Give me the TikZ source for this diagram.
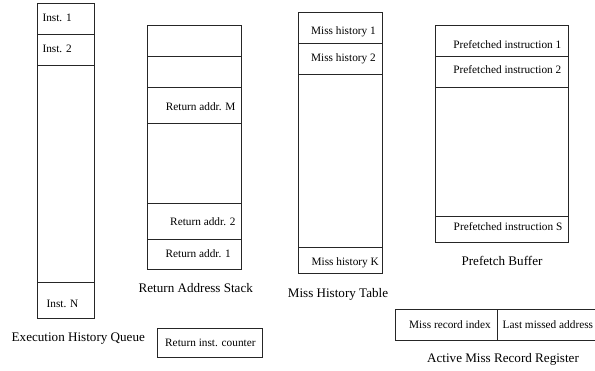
\documentclass[tikz,border=0pt]{standalone}
\usepackage{fontspec}
\setmainfont{Liberation Serif}
\begin{document}
\begin{tikzpicture}[x=1pt,y=-1pt,
  cell/.style={draw=black!85, line width=0.8pt, inner sep=0pt, anchor=north west},
  ctext/.style={font=\fontsize{11.3}{13}\selectfont, inner sep=0pt, yshift=-1.5pt},
  caption/.style={font=\fontsize{13.1}{15}\selectfont, inner sep=0pt, anchor=mid, yshift=-2pt}]
\clip (0,0) rectangle (595,371);
\useasboundingbox (0,0) rectangle (595,371);
% Execution History Queue
\node[cell, minimum width=56.7pt, minimum height=31pt] (e1) at (37.3,2.7) {};
\node[cell, minimum width=56.7pt, minimum height=31.3pt] (e2) at (37.3,33.7) {};
\node[cell, minimum width=56.7pt, minimum height=217.3pt] (e3) at (37.3,65) {};
\node[cell, minimum width=56.7pt, minimum height=36pt] (e4) at (37.3,282.3) {};
\node[ctext, anchor=mid west] (t1) at (42.3,17.3) {Inst. 1};
\node[ctext, anchor=mid west] (t2) at (42.3,48.3) {Inst. 2};
\node[ctext, anchor=mid] (tn) at (62.5,304) {Inst. N};
\node[caption] (cehq) at (78.3,337) {Execution History Queue};
% Return Address Stack
\node[cell, minimum width=93.4pt, minimum height=31pt] (r1) at (147.3,25) {};
\node[cell, minimum width=93.4pt, minimum height=31pt] (r2) at (147.3,56) {};
\node[cell, minimum width=93.4pt, minimum height=36pt] (r3) at (147.3,87) {};
\node[cell, minimum width=93.4pt, minimum height=79.7pt] (r4) at (147.3,123) {};
\node[cell, minimum width=93.4pt, minimum height=36.3pt] (r5) at (147.3,202.7) {};
\node[cell, minimum width=93.4pt, minimum height=30pt] (r6) at (147.3,239) {};
\node[ctext, anchor=mid east] (rm) at (235.7,107) {Return addr. M};
\node[ctext, anchor=mid east] (r2t) at (235.7,221.7) {Return addr. 2};
\node[ctext, anchor=mid] (r1t) at (198.2,253.3) {Return addr. 1};
\node[caption] (cras) at (195.8,288) {Return Address Stack};
% Return inst. counter
\node[cell, minimum width=105.6pt, minimum height=29pt] (ric) at (156.7,328) {};
\node[ctext, anchor=mid] (rict) at (210.4,342.5) {Return inst. counter};
% Miss History Table
\node[cell, minimum width=83.5pt, minimum height=31pt] (m1) at (298,11.7) {};
\node[cell, minimum width=83.5pt, minimum height=31.3pt] (m2) at (298,42.7) {};
\node[cell, minimum width=83.5pt, minimum height=172.7pt] (m3) at (298,74) {};
\node[cell, minimum width=83.5pt, minimum height=26.6pt] (m4) at (298,246.7) {};
\node[ctext, anchor=mid east] (m1t) at (376,31) {Miss history 1};
\node[ctext, anchor=mid east] (m2t) at (376,57.3) {Miss history 2};
\node[ctext, anchor=mid east] (mkt) at (379,261.7) {Miss history K};
\node[caption] (cmht) at (338,293) {Miss History Table};
% Prefetch Buffer
\node[cell, minimum width=132.7pt, minimum height=31pt] (p1) at (435,25) {};
\node[cell, minimum width=132.7pt, minimum height=31.3pt] (p2) at (435,56) {};
\node[cell, minimum width=132.7pt, minimum height=128.4pt] (p3) at (435,87.3) {};
\node[cell, minimum width=132.7pt, minimum height=26.6pt] (p4) at (435,215.7) {};
\node[ctext, anchor=mid east] (p1t) at (561.5,44.3) {Prefetched instruction 1};
\node[ctext, anchor=mid east] (p2t) at (561.5,70) {Prefetched instruction 2};
\node[ctext, anchor=mid east] (pst) at (562.5,226.7) {Prefetched instruction S};
\node[caption] (cpb) at (502,261.7) {Prefetch Buffer};
% Active Miss Record Register
\node[cell, minimum width=102.3pt, minimum height=31pt] (a1) at (395,309) {};
\node[cell, minimum width=110pt, minimum height=31pt] (a2) at (497.3,309) {};
\node[ctext, anchor=mid west] (a1t) at (409,325) {Miss record index};
\node[ctext, anchor=mid west] (a2t) at (502.5,325) {Last missed address};
\node[caption] (camrr) at (503,358) {Active Miss Record Register};
\end{tikzpicture}
\end{document}
